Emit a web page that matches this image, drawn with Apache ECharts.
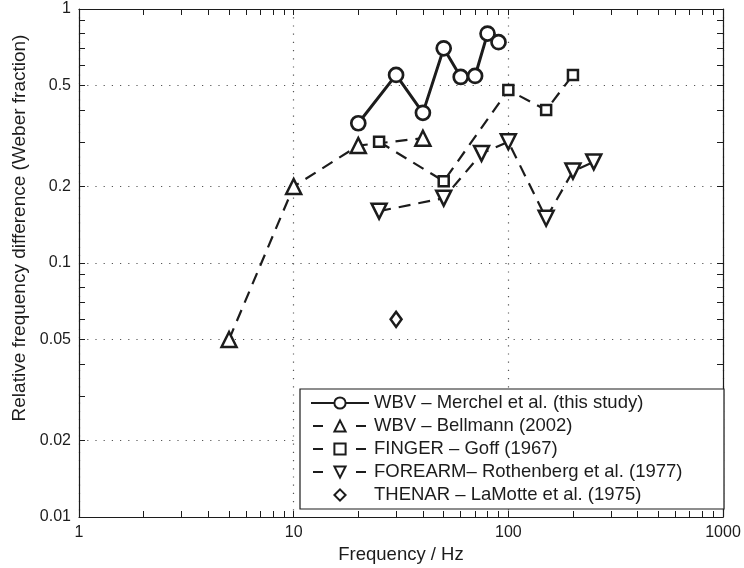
<!DOCTYPE html>
<html>
<head>
<meta charset="utf-8">
<script src="https://cdn.jsdelivr.net/npm/echarts@6/dist/echarts.min.js"></script>
<style>
  html, body { margin: 0; padding: 0; background: #fff; }
  #chart { width: 744px; height: 568px; }
</style>
</head>
<body>
<div id="chart"></div>
<script>
// frequency (Hz) and Weber fraction
const merchelX = [20, 30, 40, 50, 60, 70, 80, 90]
const merchelY = [0.355, 0.55, 0.39, 0.70, 0.54, 0.545, 0.80, 0.74]

const bellmannX = [5, 10, 20, 40]
const bellmannY = [0.05, 0.2, 0.29, 0.31]

const goffX = [25, 50, 100, 150, 200]
const goffY = [0.30, 0.21, 0.48, 0.40, 0.55]

const rothenbergX = [25, 50, 75, 100, 150, 200, 250]
const rothenbergY = [0.16, 0.18, 0.27, 0.30, 0.15, 0.23, 0.25]

const lamotteX = [30]
const lamotteY = [0.06]

// tick labels
const xMajor = [1, 10, 100, 1000]
const xMinor = [2, 3, 4, 5, 6, 7, 8, 9, 20, 30, 40, 50, 60, 70, 80, 90, 200, 300, 400, 500, 600, 700, 800, 900]
const yMajor = [0.01, 0.02, 0.05, 0.1, 0.2, 0.5, 1]
const yMinor = [0.03, 0.04, 0.06, 0.07, 0.08, 0.09, 0.3, 0.4, 0.6, 0.7, 0.8, 0.9]

const names = [
    'WBV – Merchel et al. (this study)',
    'WBV – Bellmann (2002)',
    'FINGER – Goff (1967)',
    'FOREARM– Rothenberg et al. (1977)',
    'THENAR – LaMotte et al. (1975)'
]

const ink = '#1c1c1c'
const font = "'Liberation Sans', Arial, sans-serif"

const lg = v => Math.log10(v)
const pairs = (xs, ys) => xs.map((x, i) => [lg(x), lg(ys[i])])
const fmt = v => String(parseFloat(Math.pow(10, v).toPrecision(3)))

const xAll = xMajor.concat(xMinor).map(lg)
const yAll = yMajor.concat(yMinor).map(lg)

const tick = (vals) => ({
    show: true, inside: true, length: 6,
    customValues: vals,
    lineStyle: { color: ink, width: 1 }
})
const line = { show: true, onZero: false, lineStyle: { color: ink, width: 1.2 } }
const dotted = { show: true, lineStyle: { color: '#555', width: 1.2, type: [1.2, 7] } }
const dash = [12, 8]
// legend: one short dash each side of the marker
const legendDash = { type: [10, 33], dashOffset: 41 }

const chart = echarts.init(document.getElementById('chart'))

const option = {
    animation: false,
    backgroundColor: '#fff',
    textStyle: { fontFamily: font },
    grid: { left: 79, right: 21, top: 9, bottom: 51, outerBoundsMode: 'none' },
    xAxis: [
        {
            type: 'value', min: 0, max: 3, position: 'bottom',
            axisLine: line,
            axisTick: tick(xAll),
            axisLabel: {
                customValues: xMajor.map(lg), formatter: fmt,
                color: ink, fontSize: 16, fontFamily: font, margin: 8
            },
            splitLine: { show: false },
            name: 'Frequency / Hz', nameLocation: 'middle', nameGap: 27,
            nameTextStyle: { color: ink, fontSize: 18.5, fontFamily: font }
        },
        {
            type: 'value', min: 0, max: 3, position: 'top',
            axisLine: line, axisTick: tick(xAll),
            axisLabel: { show: false }, splitLine: { show: false }
        },
        {
            type: 'value', min: 0, max: 3, position: 'top',
            axisLine: { show: false },
            axisTick: { show: false, customValues: xMajor.map(lg) },
            axisLabel: { show: false }, splitLine: dotted
        }
    ],
    yAxis: [
        {
            type: 'value', min: -2, max: 0, position: 'left',
            axisLine: line,
            axisTick: tick(yAll),
            axisLabel: {
                customValues: yMajor.map(lg), formatter: fmt,
                color: ink, fontSize: 16, fontFamily: font, margin: 8
            },
            splitLine: { show: false },
            name: 'Relative frequency difference (Weber fraction)',
            nameLocation: 'middle', nameGap: 49,
            nameTextStyle: { color: ink, fontSize: 19, fontFamily: font, padding: [0, 0, 0, 70] }
        },
        {
            type: 'value', min: -2, max: 0, position: 'right',
            axisLine: line, axisTick: tick(yAll),
            axisLabel: { show: false }, splitLine: { show: false }
        },
        {
            type: 'value', min: -2, max: 0, position: 'right',
            axisLine: { show: false },
            axisTick: { show: false, customValues: yMajor.map(lg) },
            axisLabel: { show: false }, splitLine: dotted
        }
    ],
    legend: {
        orient: 'vertical',
        left: 300, top: 389,
        backgroundColor: '#fff',
        borderColor: ink, borderWidth: 1.2,
        padding: [4, 10, 4, 10],
        itemWidth: 58, itemHeight: 14, itemGap: 3,
        textStyle: { color: ink, fontSize: 18.5, fontFamily: font, width: 340, lineHeight: 20 },
        data: [
            { name: names[0] },
            { name: names[1], lineStyle: legendDash },
            { name: names[2], lineStyle: legendDash },
            { name: names[3], lineStyle: legendDash },
            { name: names[4] }
        ]
    },
    series: [
        {
            name: names[0],
            type: 'line', data: pairs(merchelX, merchelY), z: 5,
            symbol: 'circle', symbolSize: 14, showAllSymbol: true,
            lineStyle: { color: ink, width: 3 },
            itemStyle: { color: '#fff', borderColor: ink, borderWidth: 2.7 }
        },
        {
            name: names[1],
            type: 'line', data: pairs(bellmannX, bellmannY),
            symbol: 'triangle', symbolSize: 15,
            lineStyle: { color: ink, width: 2.2, type: dash },
            itemStyle: { color: '#fff', borderColor: ink, borderWidth: 2.5 }
        },
        {
            name: names[2],
            type: 'line', data: pairs(goffX, goffY),
            symbol: 'rect', symbolSize: 10,
            lineStyle: { color: ink, width: 2.2, type: dash },
            itemStyle: { color: '#fff', borderColor: ink, borderWidth: 2.5 }
        },
        {
            name: names[3],
            type: 'line', data: pairs(rothenbergX, rothenbergY),
            symbol: 'triangle', symbolRotate: 180, symbolSize: 15,
            lineStyle: { color: ink, width: 2.2, type: dash },
            itemStyle: { color: '#fff', borderColor: ink, borderWidth: 2.5 }
        },
        {
            name: names[4],
            type: 'line', data: pairs(lamotteX, lamotteY),
            symbol: 'diamond', symbolSize: [11, 15],
            lineStyle: { width: 0, opacity: 0 },
            itemStyle: { color: '#fff', borderColor: ink, borderWidth: 2.5 }
        }
    ]
}

chart.setOption(option)
</script>
</body>
</html>
